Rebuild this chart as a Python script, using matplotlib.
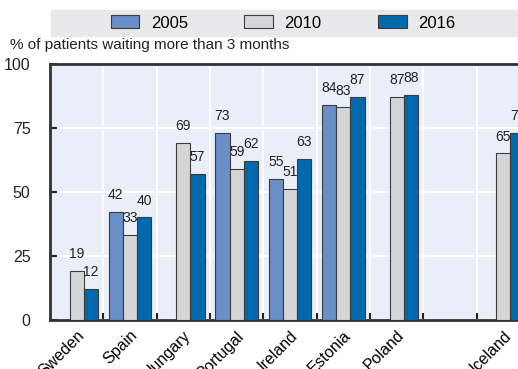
import matplotlib.pyplot as plt
from matplotlib.patches import Rectangle
import numpy as np

plt.rcParams['font.family'] = ['Liberation Sans Narrow', 'Liberation Sans', 'DejaVu Sans']

countries = ["Sweden", "Spain", "Hungary", "Portugal", "Ireland", "Estonia", "Poland", "", "Iceland"]
y2005 = [None, 42, None, 73, 55, 84, None, None, None]
y2010 = [19, 33, 69, 59, 51, 83, 87, None, 65]
y2016 = [12, 40, 57, 62, 63, 87, 88, None, 73]
years = ["2005", "2010", "2016"]
colors = ["#6a8fc6", "#d4d5d7", "#0068ab"]

W, H = 518, 369
fig = plt.figure(figsize=(W / 100, H / 100), dpi=100)
ax = fig.add_axes([50 / W, 1 - 319.5 / H, 480 / W, 255.5 / H])
ax.set_facecolor("#eaeef8")

x = np.arange(len(countries))
bw = 0.267
for k, (vals, col, yr) in enumerate(zip([y2005, y2010, y2016], colors, years)):
    pos = x + (k - 1) * bw
    for xi, v in zip(pos, vals):
        if v is None:
            continue
        ax.bar(xi, v, bw, color=col, edgecolor="#3c3c3c", linewidth=0.8, zorder=3)
        ax.annotate(str(v), (xi, v), xytext=(0, 7), textcoords="offset points",
                    ha="center", va="bottom", fontsize=10, color="#222222")
    ax.bar(0, 0, 0, color=col, edgecolor="#3c3c3c", linewidth=0.8, label=yr)

ax.set_xlim(-0.5, len(countries) - 0.5)
ax.set_ylim(0, 100)
ax.set_yticks([0, 25, 50, 75, 100])
ax.tick_params(axis="y", direction="in", length=5, width=1.5, labelsize=11.5, pad=14, colors="#222222")
ax.set_xticks(x)
ax.set_xticklabels(countries, rotation=45, ha="right", rotation_mode="anchor", fontsize=11.5)
ax.set_xticks(x[:-1] + 0.5, minor=True)
ax.tick_params(axis="x", which="major", length=0, pad=6)
ax.tick_params(axis="x", which="minor", direction="in", length=5, width=1.5, color="#222222")
ax.grid(True, which="minor", axis="x", color="white", linewidth=1.5, zorder=0)
ax.grid(True, which="major", axis="y", color="white", linewidth=1.5, zorder=0)
ax.set_axisbelow(True)
for s in ["left", "bottom", "top"]:
    ax.spines[s].set_color("#333333")
    ax.spines[s].set_linewidth(2)
ax.spines["right"].set_visible(False)

fig.patches.append(Rectangle((51 / W, 1 - 36 / H), (W - 51) / W, 26 / H,
                             transform=fig.transFigure, color="#e9e9eb", zorder=0))
handles, labels = ax.get_legend_handles_labels()
fig.legend(handles, labels, loc="center", bbox_to_anchor=(283 / W, 1 - 23 / H), ncol=3,
           frameon=False, fontsize=12, handlelength=1.7, handleheight=0.8,
           handletextpad=0.7, columnspacing=3.4)

fig.text(10 / W, 1 - 45 / H, "% of patients waiting more than 3 months",
         ha="left", va="center", fontsize=11, color="#222222")

fig.savefig("out.png", dpi=100)
